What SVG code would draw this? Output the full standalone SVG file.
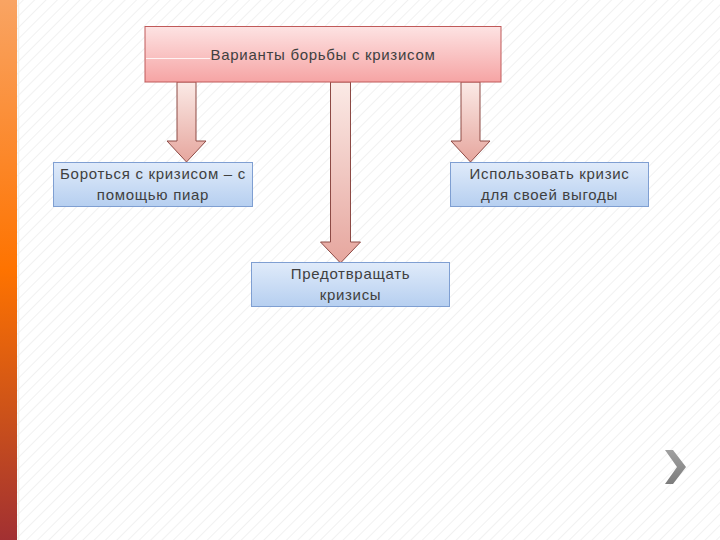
<svg xmlns="http://www.w3.org/2000/svg" width="720" height="540" viewBox="0 0 720 540">
<defs>
<pattern id="hatch" width="8" height="8" patternUnits="userSpaceOnUse" patternTransform="rotate(45)">
<rect width="8" height="8" fill="#ffffff"/>
<line x1="0" y1="0" x2="0" y2="8" stroke="#f1f1f1" stroke-width="2"/>
</pattern>
<linearGradient id="bar" x1="0" y1="0" x2="0" y2="1">
<stop offset="0" stop-color="#f9a463"/>
<stop offset="0.5" stop-color="#fe7300"/>
<stop offset="0.75" stop-color="#cf5418"/>
<stop offset="1" stop-color="#a23032"/>
</linearGradient>
<linearGradient id="pink" x1="0" y1="0" x2="0" y2="1">
<stop offset="0" stop-color="#fde3e3"/>
<stop offset="1" stop-color="#f6a4a4"/>
</linearGradient>
<linearGradient id="blue" x1="0" y1="0" x2="0" y2="1">
<stop offset="0" stop-color="#e0ebfa"/>
<stop offset="1" stop-color="#b6cff0"/>
</linearGradient>
<linearGradient id="arrow" x1="0" y1="0" x2="0" y2="1">
<stop offset="0" stop-color="#fbeae6"/>
<stop offset="1" stop-color="#e6a69e"/>
</linearGradient>
<linearGradient id="chev" x1="0" y1="0" x2="0" y2="1">
<stop offset="0" stop-color="#a0a0a0"/>
<stop offset="1" stop-color="#7c7c7c"/>
</linearGradient>
</defs>
<style>
.t{font-family:"Liberation Sans","DejaVu Sans",sans-serif;font-size:15px;letter-spacing:0.7px;fill:#404040;text-anchor:middle}
.box{fill:url(#blue);stroke:#7f9fd2;stroke-width:1}
.arr{fill:url(#arrow);stroke:#8d4a45;stroke-width:1}
</style>
<rect width="720" height="540" fill="url(#hatch)"/>
<rect x="0" y="0" width="17" height="540" fill="url(#bar)"/>
<line x1="18.5" y1="0" x2="18.5" y2="540" stroke="#f4f0e6" stroke-width="1.5"/>

<g id="connectors">
<path class="arr" d="M177,82 V141 H167 L186.5,162 L206,141 H196 V82 Z"/>
<path class="arr" d="M330.5,82 V242 H320.5 L340.5,263 L360.5,242 H350.5 V82 Z"/>
<path class="arr" d="M461,82 V141 H451 L470.5,162 L490,141 H480 V82 Z"/>
</g>

<g id="top">
<rect x="145" y="26.5" width="356" height="55.5" fill="url(#pink)" stroke="#c05a5a" stroke-width="1"/>
<line x1="146" y1="58.5" x2="210" y2="58.5" stroke="#ffffff" stroke-width="1" opacity="0.8"/>
<text class="t" x="323" y="60">Варианты борьбы с кризисом</text>
</g>

<g id="left">
<rect class="box" x="53.5" y="162.5" width="199" height="44"/>
<text class="t" x="153" y="179">Бороться с кризисом – с</text>
<text class="t" x="153" y="200">помощью пиар</text>
</g>

<g id="right">
<rect class="box" x="450.5" y="162.5" width="198" height="44"/>
<text class="t" x="549.5" y="179">Использовать кризис</text>
<text class="t" x="549.5" y="200">для своей выгоды</text>
</g>

<g id="middle">
<rect class="box" x="251.5" y="262.5" width="198" height="44"/>
<text class="t" x="350.5" y="279">Предотвращать</text>
<text class="t" x="350.5" y="300">кризисы</text>
</g>

<polygon points="665,450 673,450 686,467 673,484 665,484 677,467" fill="url(#chev)"/>
</svg>
